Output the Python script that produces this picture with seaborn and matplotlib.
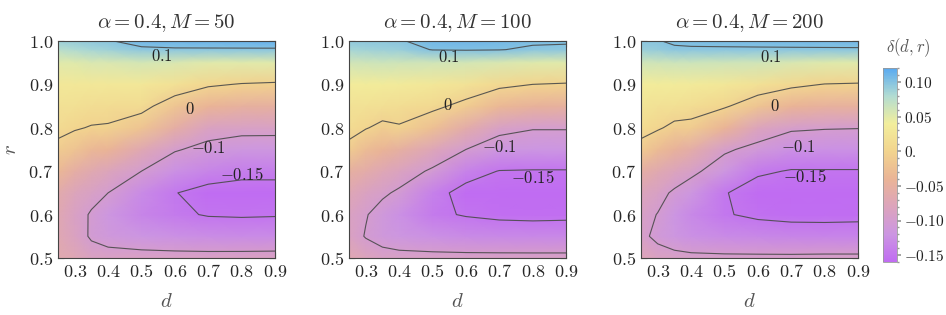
import matplotlib
matplotlib.use("Agg")
import matplotlib.pyplot as plt
import matplotlib.ticker as mticker
import numpy as np
import seaborn as sns

# grid: columns are d, rows are r
d_vals = [0.25, 0.3, 0.35, 0.4, 0.5, 0.6, 0.7, 0.8, 0.9]
r_vals = [0.5, 0.55, 0.6, 0.65, 0.7, 0.75, 0.8, 0.85, 0.9, 0.95, 0.98, 1.0]

delta_m50 = [
    [-0.065, -0.072, -0.085, -0.088, -0.088, -0.088, -0.088, -0.087, -0.086],
    [-0.070, -0.085, -0.104, -0.112, -0.120, -0.125, -0.128, -0.130, -0.130],
    [-0.070, -0.088, -0.103, -0.118, -0.135, -0.145, -0.152, -0.153, -0.152],
    [-0.062, -0.078, -0.090, -0.100, -0.130, -0.149, -0.160, -0.162, -0.162],
    [-0.035, -0.055, -0.068, -0.078, -0.100, -0.125, -0.135, -0.142, -0.142],
    [-0.010, -0.020, -0.035, -0.040, -0.070, -0.097, -0.110, -0.117, -0.118],
    [0.010, 0.003, -0.002, -0.003, -0.020, -0.055, -0.085, -0.090, -0.090],
    [0.020, 0.018, 0.015, 0.012, 0.010, -0.018, -0.040, -0.048, -0.050],
    [0.030, 0.030, 0.030, 0.030, 0.030, 0.020, 0.005, -0.002, -0.005],
    [0.050, 0.052, 0.055, 0.055, 0.058, 0.055, 0.050, 0.050, 0.050],
    [0.075, 0.080, 0.085, 0.088, 0.095, 0.097, 0.097, 0.097, 0.097],
    [0.090, 0.092, 0.095, 0.098, 0.110, 0.112, 0.113, 0.114, 0.115],
]

delta_m100 = [
    [-0.070, -0.080, -0.088, -0.090, -0.090, -0.090, -0.090, -0.090, -0.090],
    [-0.085, -0.102, -0.112, -0.118, -0.125, -0.130, -0.132, -0.133, -0.133],
    [-0.085, -0.098, -0.112, -0.125, -0.145, -0.152, -0.156, -0.157, -0.156],
    [-0.072, -0.085, -0.095, -0.105, -0.140, -0.160, -0.165, -0.167, -0.167],
    [-0.050, -0.060, -0.072, -0.083, -0.105, -0.138, -0.151, -0.152, -0.152],
    [-0.010, -0.030, -0.040, -0.050, -0.075, -0.100, -0.118, -0.120, -0.120],
    [0.012, 0.002, -0.008, -0.003, -0.025, -0.060, -0.090, -0.098, -0.098],
    [0.022, 0.020, 0.017, 0.015, 0.008, -0.010, -0.035, -0.045, -0.048],
    [0.035, 0.035, 0.035, 0.033, 0.030, 0.022, 0.008, 0.000, -0.003],
    [0.060, 0.062, 0.063, 0.062, 0.060, 0.058, 0.055, 0.052, 0.050],
    [0.085, 0.087, 0.089, 0.090, 0.101, 0.102, 0.101, 0.096, 0.095],
    [0.095, 0.096, 0.097, 0.098, 0.108, 0.110, 0.108, 0.104, 0.103],
]

delta_m200 = [
    [-0.075, -0.085, -0.090, -0.092, -0.093, -0.093, -0.093, -0.092, -0.092],
    [-0.092, -0.108, -0.118, -0.125, -0.130, -0.133, -0.135, -0.136, -0.136],
    [-0.090, -0.101, -0.120, -0.132, -0.148, -0.155, -0.158, -0.158, -0.157],
    [-0.078, -0.090, -0.105, -0.118, -0.148, -0.165, -0.168, -0.168, -0.168],
    [-0.055, -0.068, -0.080, -0.092, -0.118, -0.145, -0.152, -0.152, -0.152],
    [-0.012, -0.030, -0.045, -0.058, -0.095, -0.110, -0.125, -0.125, -0.125],
    [0.012, 0.004, -0.008, -0.010, -0.040, -0.080, -0.095, -0.098, -0.099],
    [0.025, 0.020, 0.018, 0.015, 0.004, -0.020, -0.040, -0.047, -0.048],
    [0.035, 0.035, 0.035, 0.034, 0.030, 0.020, 0.008, -0.001, -0.003],
    [0.060, 0.062, 0.063, 0.063, 0.062, 0.060, 0.055, 0.052, 0.050],
    [0.090, 0.092, 0.097, 0.097, 0.097, 0.097, 0.097, 0.097, 0.097],
    [0.098, 0.099, 0.103, 0.105, 0.106, 0.107, 0.108, 0.109, 0.110],
]

sample_sizes = [50, 100, 200]
contour_levels = [-0.15, -0.1, 0.0, 0.1]
level_texts = ["$-0.15$", "$-0.1$", "$0$", "$0.1$"]
cbar_ticks = [-0.15, -0.10, -0.05, 0.0, 0.05, 0.10]
cbar_ticklabels = ["$-0.15$", "$-0.10$", "$-0.05$", "$0.$", "$0.05$", "$0.10$"]

# where the contour labels sit, one (d, r) per level per panel
label_spots = [
    [(0.80, 0.690), (0.70, 0.752), (0.645, 0.842), (0.56, 0.965)],
    [(0.80, 0.684), (0.70, 0.755), (0.545, 0.852), (0.55, 0.963)],
    [(0.74, 0.686), (0.72, 0.755), (0.65, 0.850), (0.64, 0.963)],
]

sns.set_theme(style="ticks")
plt.rcParams["font.family"] = ["DejaVu Serif"]
plt.rcParams["mathtext.fontset"] = "cm"

cmap = sns.blend_palette(
    ["#c06cf2", "#cc96e2", "#dca4bc", "#eab496", "#f2d48e",
     "#f2ee9c", "#b2dcd2", "#5aaaf0"],
    as_cmap=True,
)
vmin, vmax = -0.16, 0.12

fig = plt.figure(figsize=(9.46, 3.15), dpi=100)
lefts = [0.0613, 0.369, 0.6776]
axes = [fig.add_axes([l, 0.181, 0.2294, 0.689]) for l in lefts]

D, R = np.meshgrid(d_vals, r_vals)
tick_fmt = mticker.FuncFormatter(lambda v, p: f"${v:.1f}$")

for i, (ax, M, Z) in enumerate(zip(axes, sample_sizes,
                                   [delta_m50, delta_m100, delta_m200])):
    Z = np.array(Z)
    mesh = ax.pcolormesh(D, R, Z, cmap=cmap, vmin=vmin, vmax=vmax,
                         shading="gouraud", rasterized=True)
    ax.contour(D, R, Z, levels=contour_levels, colors="#4a4a4a",
               linewidths=0.8, linestyles="solid", alpha=0.9)
    for (x, y), txt in zip(label_spots[i], level_texts):
        ax.text(x, y, txt, fontsize=12, ha="center", va="center",
                color="#222222")

    ax.set_xlim(0.25, 0.9)
    ax.set_ylim(0.5, 1.0)
    ax.set_xticks([0.3, 0.4, 0.5, 0.6, 0.7, 0.8, 0.9])
    ax.set_yticks([0.5, 0.6, 0.7, 0.8, 0.9, 1.0])
    ax.xaxis.set_minor_locator(mticker.MultipleLocator(0.02))
    ax.yaxis.set_minor_locator(mticker.MultipleLocator(0.02))
    ax.xaxis.set_major_formatter(tick_fmt)
    ax.yaxis.set_major_formatter(tick_fmt)
    ax.tick_params(which="both", direction="in", top=True, right=True,
                   color="#333333", labelsize=13)
    ax.tick_params(which="major", length=4, width=0.8)
    ax.tick_params(which="minor", length=2, width=0.6)
    for s in ax.spines.values():
        s.set_color("#444444")
        s.set_linewidth(0.8)

    ax.set_title(rf"$\alpha = 0.4, M = {M}$", fontsize=15, pad=9,
                 color="#333333")
    ax.set_xlabel("$d$", fontsize=15, color="#555555", labelpad=8)
    if i == 0:
        ax.set_ylabel("$r$", fontsize=15, color="#555555", labelpad=6)

cax = fig.add_axes([0.9334, 0.168, 0.0148, 0.616])
cb = fig.colorbar(mesh, cax=cax)
cb.set_ticks(cbar_ticks)
cb.set_ticklabels(cbar_ticklabels)
cb.ax.yaxis.set_minor_locator(mticker.MultipleLocator(0.01))
cb.ax.tick_params(which="both", direction="out", color="#999999",
                  labelsize=11, labelcolor="#222222", pad=2)
cb.ax.tick_params(which="major", length=3)
cb.ax.tick_params(which="minor", length=1.5)
cb.outline.set_edgecolor("#999999")
cb.outline.set_linewidth(0.6)
fig.text(0.96, 0.85, r"$\delta(d, r)$", fontsize=12, ha="center",
         va="center", color="#555555")

fig.savefig("out.png", dpi=100)
